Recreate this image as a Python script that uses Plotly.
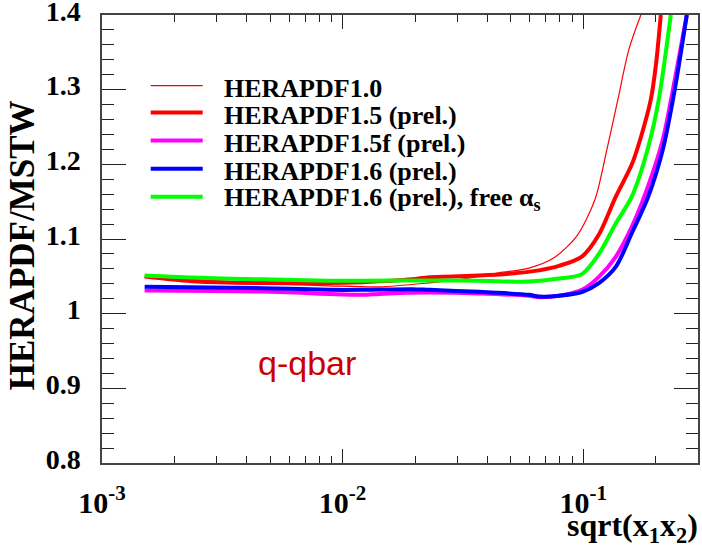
import plotly.graph_objects as go

# ---------------- data ----------------
series_names = [
    "HERAPDF1.0",
    "HERAPDF1.5 (prel.)",
    "HERAPDF1.5f (prel.)",
    "HERAPDF1.6 (prel.)",
    "HERAPDF1.6 (prel.), free α<sub>s</sub>",
]
series_colors = ["#ff0000", "#ff0000", "#ff00ff", "#0000ff", "#00ff00"]
series_widths = [1.2, 4, 4, 4, 4]

x_h10 = [0.001504, 0.002543, 0.004642, 0.008807, 0.01420, 0.02290, 0.03138, 0.04469,
         0.05952, 0.07556, 0.09417, 0.1118, 0.1254, 0.1393, 0.1547, 0.1735]
y_h10 = [1.0486, 1.0453, 1.0406, 1.0373, 1.0359, 1.0413, 1.0462, 1.0547,
         1.0610, 1.0748, 1.1043, 1.1525, 1.2196, 1.2866, 1.3536, 1.400]

x_h15 = [0.001504, 0.002472, 0.004642, 0.008807, 0.01207, 0.01946, 0.02290, 0.03692,
         0.04915, 0.06549, 0.07927, 0.09877, 0.1162, 0.1367, 0.1593, 0.1735,
         0.1909, 0.2003, 0.2101]
y_h15 = [1.0497, 1.0430, 1.0410, 1.0410, 1.0422, 1.0460, 1.0489, 1.0510,
         1.0534, 1.0580, 1.0640, 1.0765, 1.1060, 1.1570, 1.2000, 1.2360,
         1.2866, 1.3320, 1.400]

x_h15f = [0.001504, 0.004642, 0.01207, 0.01420, 0.02290, 0.03692, 0.05952, 0.06549,
          0.07927, 0.09877, 0.1162, 0.1367, 0.1593, 0.1837, 0.2141, 0.2401, 0.2694]
y_h15f = [1.0310, 1.0296, 1.0252, 1.0265, 1.0283, 1.0270, 1.0239, 1.0221,
          1.0239, 1.0319, 1.0493, 1.0765, 1.1165, 1.1660, 1.2330, 1.3130, 1.400]

x_h16 = [0.001504, 0.004642, 0.008807, 0.01207, 0.01946, 0.02290, 0.03692, 0.05952,
         0.06549, 0.07927, 0.09877, 0.1162, 0.1367, 0.1593, 0.1855, 0.2141, 0.2401, 0.2694]
y_h16 = [1.0359, 1.0342, 1.0319, 1.0319, 1.0328, 1.0319, 1.0292, 1.0252,
         1.0229, 1.0239, 1.0290, 1.0410, 1.0630, 1.1080, 1.1552, 1.2196, 1.3000, 1.400]

x_h16a = [0.001504, 0.002543, 0.004642, 0.008807, 0.01207, 0.02290, 0.03692, 0.05952,
          0.07927, 0.09877, 0.1162, 0.1367, 0.1593, 0.1873, 0.2061, 0.2312]
y_h16a = [1.0510, 1.0480, 1.0460, 1.0440, 1.0440, 1.0445, 1.0440, 1.0430,
          1.0470, 1.0530, 1.0800, 1.1210, 1.1570, 1.2260, 1.2870, 1.400]

series_x = [x_h10, x_h15, x_h15f, x_h16, x_h16a]
series_y = [y_h10, y_h15, y_h15f, y_h16, y_h16a]

y_tickvals = [0.8, 0.9, 1.0, 1.1, 1.2, 1.3, 1.4]
y_ticktext = ["0.8", "0.9", "1", "1.1", "1.2", "1.3", "1.4"]
x_tickvals = [0.001, 0.01, 0.1]
x_ticktext = ["10<sup>-3</sup>", "10<sup>-2</sup>", "10<sup>-1</sup>"]
x_minor = [k * 10.0 ** e for e in (-3, -2, -1) for k in range(2, 10) if k * 10.0 ** e <= 0.3]

y_title = "HERAPDF/MSTW"
x_title = "sqrt(x<sub>1</sub>x<sub>2</sub>)"
label_text = "q-qbar"

# ---------------- figure ----------------
SERIF = "Liberation Serif"


def bfont(size):
    return dict(family=SERIF, size=size, color="black", weight="bold")


fig = go.Figure()
for name, xs, ys, c, w in zip(series_names, series_x, series_y, series_colors, series_widths):
    fig.add_trace(go.Scatter(x=xs, y=ys, mode="lines", name=name, showlegend=False,
                             line=dict(color=c, width=w, shape="spline", smoothing=0.8)))

axis_common = dict(showgrid=False, zeroline=False, showline=True, linecolor="#444",
                   linewidth=1.5, mirror="ticks", ticks="inside", tickcolor="#222",
                   tickwidth=1.3, ticklabeloverflow="allow", automargin=False)

fig.update_xaxes(type="log", range=[-3, -0.523], tickvals=x_tickvals, ticktext=x_ticktext,
                 ticklen=14, tickfont=bfont(30), ticklabelstandoff=12,
                 minor=dict(tickvals=x_minor, ticks="inside", ticklen=7, tickcolor="#222",
                            tickwidth=1.3),
                 **axis_common)
fig.update_yaxes(range=[0.8, 1.40001], tickvals=y_tickvals, ticktext=y_ticktext, ticklen=24,
                 tickfont=bfont(28), ticklabelstandoff=14, ticklabelshift=-4,
                 minor=dict(dtick=0.02, ticks="inside", ticklen=12, tickcolor="#222",
                            tickwidth=1.3),
                 **axis_common)

# legend drawn as lines + text
leg_rows = [0.8425, 0.7821, 0.7196, 0.6570, 0.5944]
shapes = []
annotations = []
for name, c, w, yr in zip(series_names, series_colors, series_widths, leg_rows):
    shapes.append(dict(type="line", xref="paper", yref="paper", x0=0.0817, x1=0.169,
                       y0=yr, y1=yr, line=dict(color=c, width=w)))
    annotations.append(dict(xref="paper", yref="paper", x=0.2008, y=yr - 0.006,
                            xanchor="left", yanchor="middle", showarrow=False, text=name,
                            font=bfont(26)))

annotations.append(dict(xref="paper", yref="paper", x=-0.1336, y=0.487, textangle=-90,
                        xanchor="center", yanchor="middle", showarrow=False, text=y_title,
                        font=bfont(35)))
annotations.append(dict(xref="paper", yref="paper", x=1.003, y=-0.145, xanchor="right",
                        yanchor="middle", showarrow=False, text=x_title,
                        font=bfont(32)))
annotations.append(dict(xref="paper", yref="paper", x=0.3443, y=0.2235, xanchor="center",
                        yanchor="middle", showarrow=False, text=label_text,
                        font=dict(family="Liberation Sans", size=34, color="#cc0000")))

fig.update_layout(width=702, height=548, margin=dict(l=102, r=4, t=15, b=85),
                  paper_bgcolor="white", plot_bgcolor="white", showlegend=False,
                  shapes=shapes, annotations=annotations)

fig.write_html("out.html")
